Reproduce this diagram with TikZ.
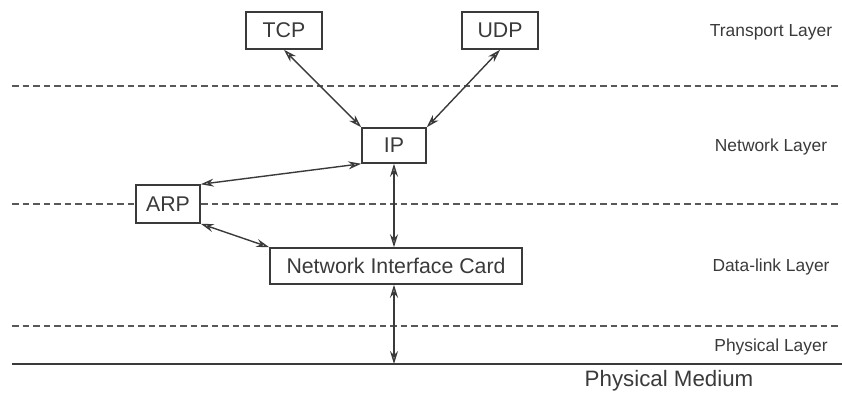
\documentclass[tikz,border=0pt]{standalone}
\usepackage{fontspec}
\setmainfont{Liberation Sans}
\usepackage{xcolor}
\usetikzlibrary{arrows.meta,positioning}

\definecolor{ink}{HTML}{3A3A3A}

\begin{document}
\begin{tikzpicture}[
  x=1pt, y=-1pt,
  font=\fontsize{21.3}{24}\selectfont,
  box/.style={draw=ink, text=ink, fill=white, line width=1.5pt, inner sep=0pt, align=center},
  layername/.style={text=ink, font=\fontsize{17.4}{20}\selectfont},
  sep/.style={draw=ink!85, dash pattern=on 6.5pt off 4pt, line width=1.1pt},
  arr/.style={{Stealth[open, length=13pt, width=8pt]}-{Stealth[open, length=13pt, width=8pt]}, draw=ink, line width=1.4pt}
]
\useasboundingbox (0,0) rectangle (842,392);

% ---------- Layer boundaries ----------
\coordinate (l1w) at (12,86);   \coordinate (l1e) at (842,86);
\coordinate (l2w) at (12,204);  \coordinate (l2e) at (842,204);
\coordinate (l3w) at (12,326);  \coordinate (l3e) at (842,326);
\coordinate (medw) at (12,364); \coordinate (mede) at (842,364);

\draw[sep] (l1w) -- (l1e);
\draw[sep] (l2w) -- (l2e);
\draw[sep] (l3w) -- (l3e);
\draw[draw=ink, line width=1.5pt] (medw) -- (mede);

% ---------- Protocol boxes ----------
\node[box, minimum width=76pt, minimum height=37pt] (tcp) at (284,30.5) {TCP};
\node[box, minimum width=76pt, minimum height=37pt] (udp) at (500,30.5) {UDP};
\node[box, minimum width=64pt, minimum height=35pt] (ip) at (394,145.5) {IP};
\node[box, minimum width=64pt, minimum height=38pt] (arp) at (168,204) {ARP};
\node[box, minimum width=252pt, minimum height=36pt] (nic) at (396,266) {Network Interface Card};

% ---------- Layer names ----------
\node[layername] (trans) at (771,32) {Transport Layer};
\node[layername] (net) at (771,147) {Network Layer};
\node[layername] (dlink) at (771,267) {Data-link Layer};
\node[layername] (phys) at (771,347) {Physical Layer};
\node[text=ink, font=\fontsize{22.3}{24}\selectfont] (medium) at (669,381) {Physical Medium};

% ---------- Arrows ----------
\coordinate (wire) at (ip |- medw);
\draw[arr] (tcp.south) -- (ip.north west);
\draw[arr] (udp.south) -- (ip.north east);
\draw[arr] (arp.north east) -- (ip.south west);
\draw[arr] (arp.south east) -- (nic.north west);
\draw[arr] (ip.south) -- (ip.south |- nic.north);
\draw[arr] (ip.south |- nic.south) -- (wire);

\end{tikzpicture}
\end{document}
